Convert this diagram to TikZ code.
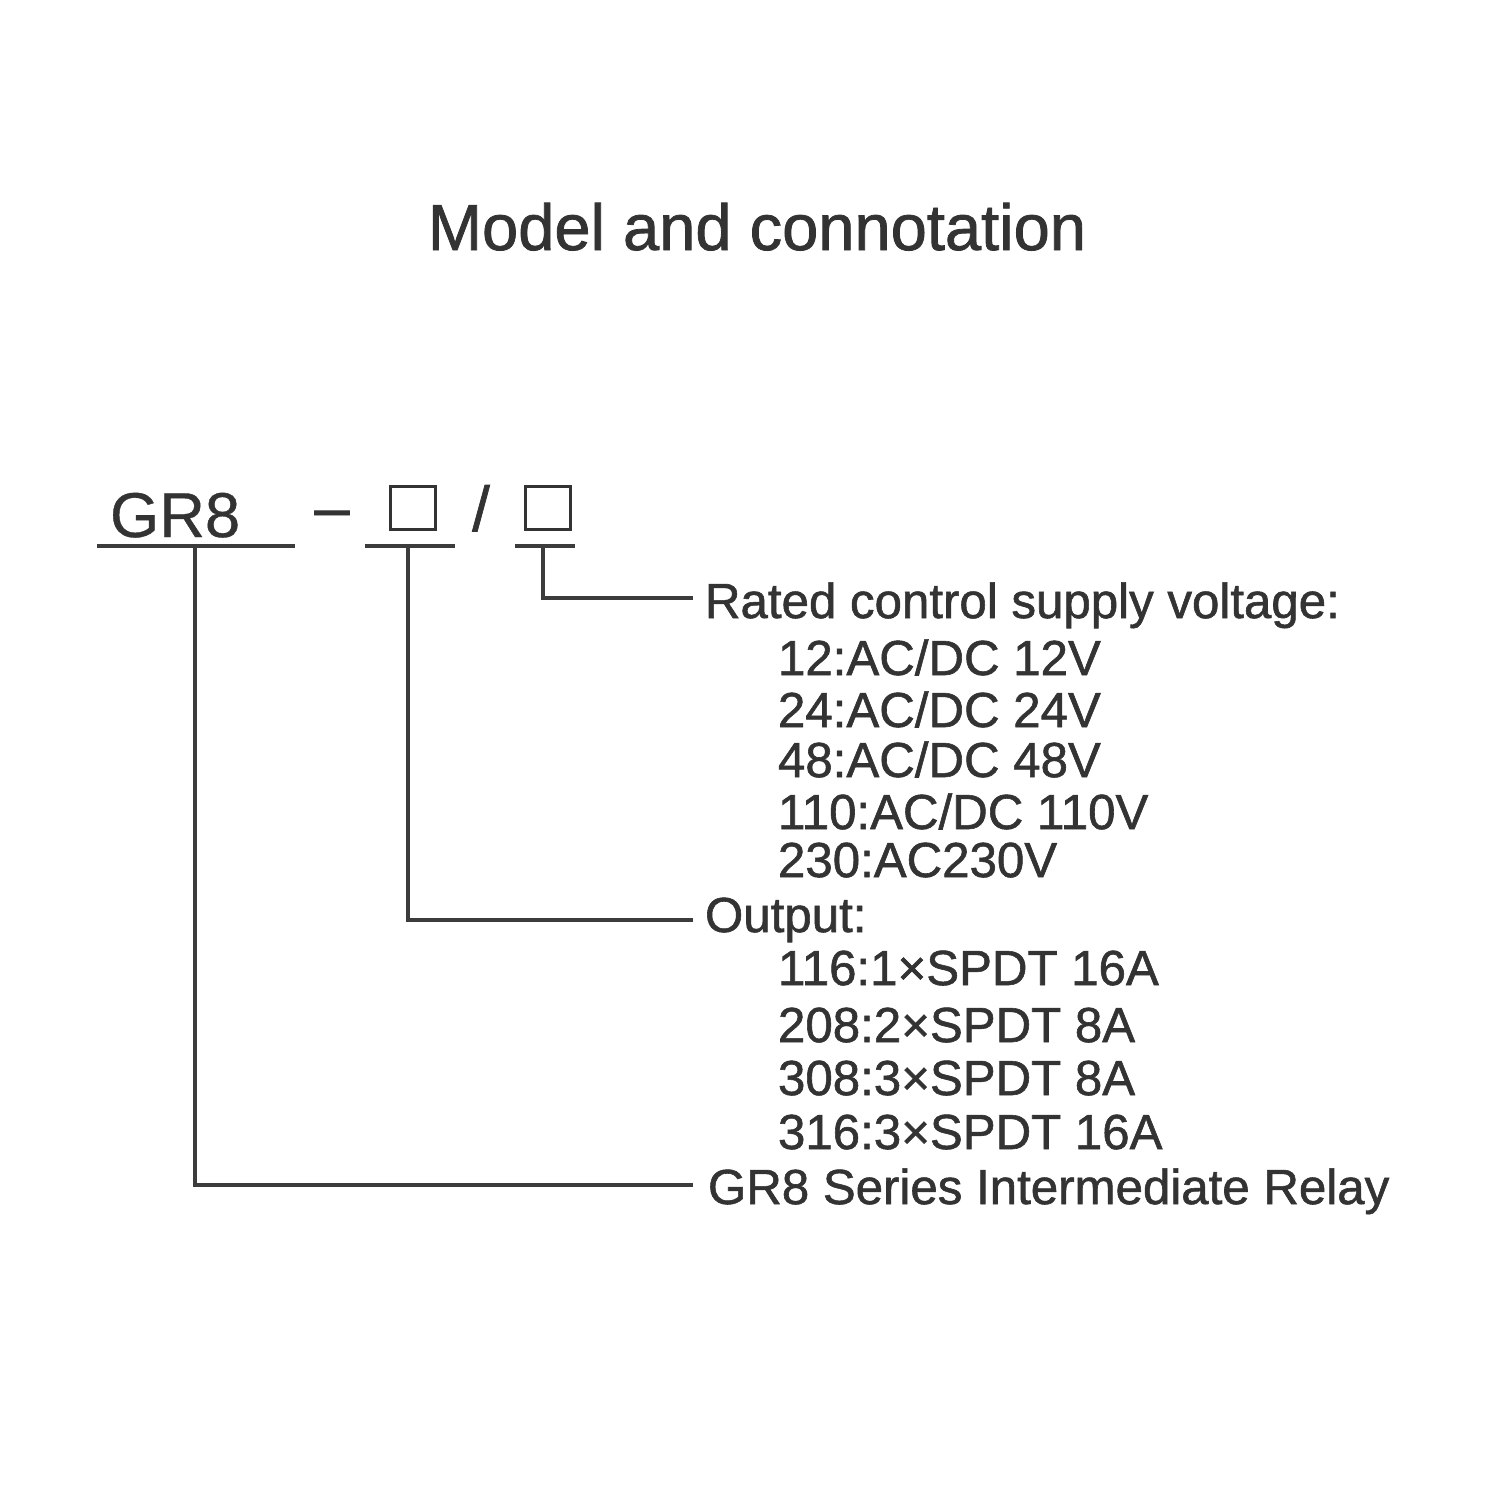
\documentclass[tikz,border=0pt]{standalone}
\usepackage{fontspec}
\setmainfont{Liberation Sans}
\newfontfamily\heavyfont[FakeBold=1.2]{Liberation Sans}
\newfontfamily\semifont[FakeBold=0.6]{Liberation Sans}
\begin{document}
\begin{tikzpicture}[x=0.01cm,y=-0.01cm,
  txt/.style={inner sep=0pt,outer sep=0pt,anchor=base west,text=ink,font=\heavyfont\fontsize{14pt}{16pt}\selectfont},
  big/.style={inner sep=0pt,outer sep=0pt,text=ink,font=\semifont\fontsize{18pt}{20pt}\selectfont},
  wire/.style={draw=lineink,line width=1.1pt},
  bar/.style={draw=lineink,line width=1.3pt},
  slot/.style={draw=ink,line width=1.1pt,minimum width=0.45cm,minimum height=0.43cm,inner sep=0pt}]
\definecolor{ink}{HTML}{333333}
\definecolor{lineink}{HTML}{3C3C3C}
\useasboundingbox (0,0) rectangle (1500,1500);
% title
\node[big,anchor=base,font=\heavyfont\fontsize{18.5pt}{20pt}\selectfont] (title) at (757,250) {Model and connotation};
% model code
\node[big,anchor=base west] (gr) at (110,537) {GR8};
\node[big,anchor=base,font=\heavyfont\fontsize{18pt}{20pt}\selectfont] (dash) at (332,529) {–};
\node[slot] (b1) at (413,508) {};
\node[big,anchor=base,font=\heavyfont\fontsize{18pt}{20pt}\selectfont] (sl) at (481,531) {/};
\node[slot] (b2) at (548,508) {};
% underlines
\draw[bar] (97,546) -- (295,546);
\draw[bar] (365,546) -- (455,546);
\draw[bar] (515,546) -- (575,546);
\coordinate (u1) at (195,546);
\coordinate (u2) at (408,546);
\coordinate (u3) at (543,546);
\coordinate (e1) at (693,1185);
\coordinate (e2) at (693,920);
\coordinate (e3) at (693,598);
\draw[wire] (u1) |- (e1);
\draw[wire] (u2) |- (e2);
\draw[wire] (u3) |- (e3);
% texts
\node[txt] (rated) at (705,618) {Rated control supply voltage:};
\node[txt] (v12) at (778,675) {12:AC/DC 12V};
\node[txt] (v24) at (778,727) {24:AC/DC 24V};
\node[txt] (v48) at (778,777) {48:AC/DC 48V};
\node[txt] (v110) at (778,829) {110:AC/DC 110V};
\node[txt] (v230) at (778,877) {230:AC230V};
\node[txt] (out) at (705,932) {Output:};
\node[txt] (o116) at (778,985) {116:1×SPDT 16A};
\node[txt] (o208) at (778,1042) {208:2×SPDT 8A};
\node[txt] (o308) at (778,1095) {308:3×SPDT 8A};
\node[txt] (o316) at (778,1149) {316:3×SPDT 16A};
\node[txt] (relay) at (708,1204) {GR8 Series Intermediate Relay};
\end{tikzpicture}
\end{document}
